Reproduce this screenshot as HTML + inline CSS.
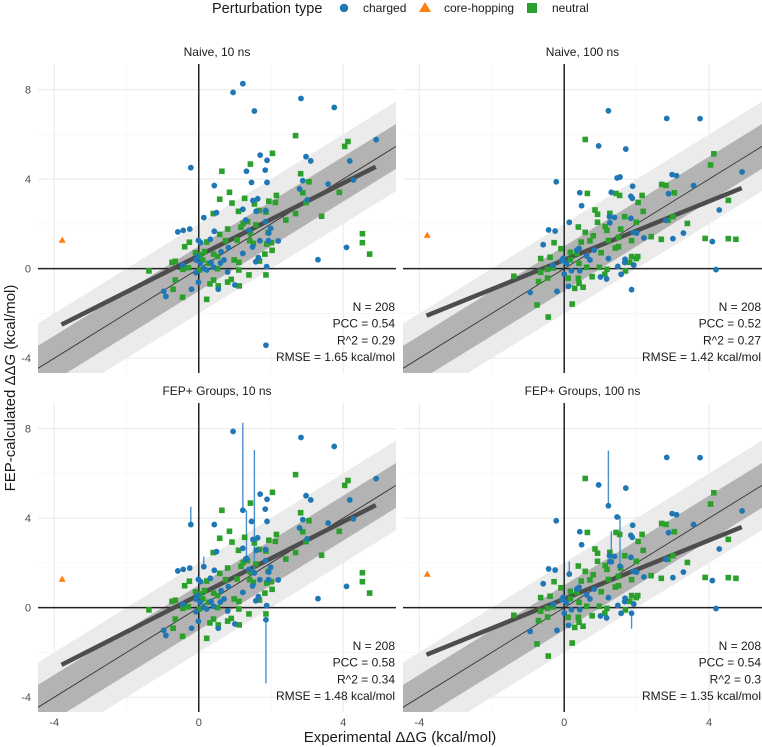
<!DOCTYPE html>
<html><head><meta charset="utf-8"><style>
html,body{margin:0;padding:0;background:#fff;}
svg{display:block;font-family:"Liberation Sans",sans-serif;}
</style></head><body>
<svg id="chart" width="762" height="747" viewBox="0 0 762 747"></svg>
<script>
// ---- data ----
const panelTitles = ["Naive, 10 ns","Naive, 100 ns","FEP+ Groups, 10 ns","FEP+ Groups, 100 ns"];
const statsN = [208,208,208,208];
const statsPCC = ["0.54","0.52","0.58","0.54"];
const statsR2 = ["0.29","0.27","0.34","0.3"];
const statsRMSE = ["1.65","1.42","1.48","1.35"];
const fitIntercept = [0.58,0.39,0.56,0.39];
const fitSlope = [0.81,0.655,0.82,0.655];
const xTicks = [-4,0,4];
const yTicks = [-4,0,4,8];
const legendLabels = ["charged","core-hopping","neutral"];

const n10ChargedX = [1.22,0.95,2.83,3.75,1.54,4.91,1.70,2.97,1.89,3.10,4.18,-0.22,1.84,1.32,1.46,1.89,2.88,4.28,3.58,0.43,2.79,3.00,1.63,1.50,1.22,1.59,1.85,0.49,0.14,1.30,1.85,1.99,-0.25,-0.43,-0.58,0.43,1.94,1.39,-0.01,0.05,0.32,1.69,1.93,2.20,4.09,0.82,1.49,1.22,0.62,1.65,1.58,3.30,1.88,-0.44,-0.08,0.04,0.13,0.22,-0.08,0.34,0.60,0.80,-0.20,-0.01,-0.97,-0.91,0.54,1.00,1.86,0.70,0.41,-0.03];
const n10ChargedY = [8.26,7.87,7.6,7.2,7.04,5.76,5.07,5.0,4.84,4.81,4.81,4.51,4.40,4.35,3.85,3.85,3.93,3.96,3.78,3.71,3.56,3.07,3.12,3.04,2.65,2.56,2.60,2.50,2.28,2.17,2.10,1.80,1.77,1.71,1.64,1.67,1.59,1.71,1.26,1.16,1.31,1.25,1.25,1.24,0.95,0.94,0.97,0.68,0.76,0.49,0.31,0.40,0.09,0.16,0.39,0.24,0.01,-0.06,-0.18,0.28,0.25,-0.15,-0.92,-0.61,-1.01,-1.24,-0.92,-0.73,-3.42,0.39,0.06,0.54];
const n10NeutralX = [2.68,4.13,4.04,2.04,1.43,0.64,2.82,3.05,0.85,2.88,3.89,2.15,1.27,0.58,0.92,1.94,2.12,1.54,2.97,1.10,1.68,1.86,0.40,2.68,3.40,2.41,1.35,1.23,1.58,1.17,0.80,0.58,1.43,1.92,4.53,4.53,4.73,-0.26,-0.39,0.22,0.74,1.06,1.41,1.51,1.88,2.01,2.03,1.83,-0.09,0.04,0.16,0.41,0.52,0.98,1.11,1.68,0.11,0.28,-0.74,-0.65,-0.44,-0.29,-1.38,-0.65,-0.71,-0.45,0.22,0.41,0.31,0.54,0.90,1.12,1.39,1.86,1.11,0.02,0.52,0.80];
const n10NeutralY = [5.94,5.68,5.46,5.15,4.67,4.35,4.24,3.88,3.41,3.39,3.41,3.27,3.14,3.10,2.93,3.01,2.96,2.89,2.95,2.56,2.60,2.53,2.46,2.46,2.34,2.17,2.10,2.02,1.95,1.85,1.77,1.53,1.58,1.62,1.56,1.16,0.65,1.18,0.98,1.19,1.25,1.28,1.25,1.13,1.10,1.16,0.82,0.65,0.71,0.61,0.76,0.65,0.54,0.39,0.28,0.34,0.39,0.24,0.28,0.33,-0.03,0.04,-0.10,-0.51,-0.92,-1.28,-1.37,-0.51,-0.68,-0.77,-0.48,-0.77,-0.28,-0.28,-0.06,-0.06,0.00,-0.60];
const n10CoreX = [-3.78];
const n10CoreY = [1.28];

const n100ChargedX = [1.22,2.83,3.75,0.95,1.70,4.91,2.98,3.10,1.46,1.54,-0.22,1.89,3.57,0.43,1.30,2.88,1.84,1.88,0.48,4.28,1.25,1.39,1.84,0.14,1.26,2.81,-0.43,-0.25,1.91,2.0,3.29,2.20,3.0,4.09,-0.58,0.41,0.35,0.83,0.62,1.22,1.68,1.67,1.92,1.48,4.19,-0.03,-0.07,0.06,0.20,0,1.0,1.17,1.57,0.12,-0.20,-0.94,1.86,0.71,0.43,-0.31];
const n100ChargedY = [7.05,6.71,6.70,5.48,5.34,4.32,4.20,4.15,4.05,4.09,3.88,3.68,3.71,3.39,3.41,3.35,3.23,3.14,2.81,2.62,2.32,2.29,2.25,2.07,2.05,2.16,1.73,1.68,1.62,1.59,1.59,1.37,1.34,1.21,1.07,0.91,0.83,0.83,0.57,0.45,0.42,0.27,0.16,0.10,-0.04,0.46,0.36,0.24,-0.09,-0.24,-0.37,-0.46,-0.25,-0.79,-1.01,-1.06,-0.94,0.39,-0.09,0.16];
const n100NeutralX = [0.58,4.13,4.04,2.69,2.81,3.04,0.64,1.43,1.53,2.15,4.53,2.04,0.85,2.18,0.92,1.26,1.67,1.99,0.92,3.0,2.87,3.40,0.39,1.13,1.18,1.56,0.58,0.80,1.50,2.40,2.68,3.89,4.53,4.74,-0.28,0.47,0.71,1.22,1.86,1.50,-0.09,1.41,0.17,0.35,1.02,1.86,1.99,2.03,-0.65,-0.39,0.17,0.41,0.62,0.97,1.18,1.81,-0.65,-0.46,-0.30,-1.39,-0.71,-0.46,0.11,0.39,0.41,0.52,0.29,0.77,1.12,1.69,-0.75,0.22,-0.44];
const n100NeutralY = [5.77,5.13,4.63,3.76,3.72,3.39,3.36,3.36,3.27,3.27,3.05,2.96,2.62,2.56,2.43,2.47,2.32,2.07,2.07,2.32,2.16,2.02,1.86,1.88,1.71,1.77,1.62,1.47,1.40,1.43,1.31,1.35,1.34,1.31,1.16,1.19,1.24,1.26,1.25,0.98,0.89,0.92,0.73,0.68,0.71,0.54,0.45,0.54,0.45,0.51,0.40,0.24,0.06,0.06,-0.03,0.28,-0.16,-0.03,0.03,-0.34,-0.58,-0.42,-0.43,-0.43,-0.65,-0.83,-0.88,-0.36,-0.25,-0.10,-1.62,-1.58,-2.16];
const n100CoreX = [-3.78];
const n100CoreY = [1.50];

// FEP+ Groups: same points as Naive except charged points that moved (with range bars)
const g10FixIdx = [0,4,11,13,28,68];
const g10FixY = [4.35,1.55,3.71,2.2,1.83,-0.54];
const g10BarY = [8.26,7.04,4.51,4.35,2.28,-3.38];
const g100FixIdx = [0,9,14,23,56];
const g100FixY = [4.55,1.85,2.05,1.5,-0.25];
const g100BarY = [7.02,4.09,3.41,2.07,-0.94];

// ---- build ----
const NS = "http://www.w3.org/2000/svg";
const svg = document.getElementById("chart");
function mk(tag, attrs, parent){const e=document.createElementNS(NS,tag);for(const k in attrs)e.setAttribute(k,attrs[k]);(parent||svg).appendChild(e);return e;}

const XMIN=-4.45, XMAX=5.46, YMIN=-4.66, YMAX=9.14;
const panels = [
 {x0:38,x1:396,y0:64,y1:373},
 {x0:403,x1:762,y0:64,y1:373},
 {x0:38,x1:396,y0:403,y1:712},
 {x0:403,x1:762,y0:403,y1:712}
];
const BLUE="#1f77b4", ORANGE="#ff7f0e", GREEN="#2ca02c";

function applyFix(arr, idx, vals){const out=arr.slice();idx.forEach((i,k)=>{out[i]=vals[k];});return out;}
const datasets = [
 {cx:n10ChargedX,cy:n10ChargedY,nx:n10NeutralX,ny:n10NeutralY,tx:n10CoreX,ty:n10CoreY,bars:[]},
 {cx:n100ChargedX,cy:n100ChargedY,nx:n100NeutralX,ny:n100NeutralY,tx:n100CoreX,ty:n100CoreY,bars:[]},
 {cx:n10ChargedX,cy:applyFix(n10ChargedY,g10FixIdx,g10FixY),nx:n10NeutralX,ny:n10NeutralY,tx:n10CoreX,ty:n10CoreY,bars:g10FixIdx.map((i,k)=>[n10ChargedX[i],g10FixY[k],g10BarY[k]])},
 {cx:n100ChargedX,cy:applyFix(n100ChargedY,g100FixIdx,g100FixY),nx:n100NeutralX,ny:n100NeutralY,tx:n100CoreX,ty:n100CoreY,bars:g100FixIdx.map((i,k)=>[n100ChargedX[i],g100FixY[k],g100BarY[k]])}
];

const defs = mk("defs",{});
panels.forEach((p,pi)=>{
  const cp = mk("clipPath",{id:"clip"+pi},defs);
  mk("rect",{x:p.x0,y:p.y0,width:p.x1-p.x0,height:p.y1-p.y0},cp);
});

panels.forEach((p,pi)=>{
  const sx = v => p.x0 + (v-XMIN)/(XMAX-XMIN)*(p.x1-p.x0);
  const sy = v => p.y1 - (v-YMIN)/(YMAX-YMIN)*(p.y1-p.y0);
  const g = mk("g",{"clip-path":"url(#clip"+pi+")"});
  
  
  // grid
  [-2,2].forEach(v=>mk("line",{x1:sx(v),x2:sx(v),y1:p.y0,y2:p.y1,stroke:"#f2f2f2","stroke-width":0.6},g));
  [-2,2,6].forEach(v=>mk("line",{x1:p.x0,x2:p.x1,y1:sy(v),y2:sy(v),stroke:"#f2f2f2","stroke-width":0.6},g));
  xTicks.forEach(v=>mk("line",{x1:sx(v),x2:sx(v),y1:p.y0,y2:p.y1,stroke:"#ebebeb","stroke-width":1.1},g));
  yTicks.forEach(v=>mk("line",{x1:p.x0,x2:p.x1,y1:sy(v),y2:sy(v),stroke:"#ebebeb","stroke-width":1.1},g));
  // bands
  const a=XMIN-1, b=XMAX+1;
  const band=(d,fill,name)=>{const e=mk("polygon",{points:`${sx(a)},${sy(a+d)} ${sx(b)},${sy(b+d)} ${sx(b)},${sy(b-d)} ${sx(a)},${sy(a-d)}`,fill:fill},g);};
  band(2,"#ebebeb","band-2-kcal");
  band(1,"#b3b3b3","band-1-kcal");
  // axes at zero
  mk("line",{x1:p.x0,x2:p.x1,y1:sy(0),y2:sy(0),stroke:"#222","stroke-width":1.5},g);
  mk("line",{x1:sx(0),x2:sx(0),y1:p.y0,y2:p.y1,stroke:"#222","stroke-width":1.5},g);
  // identity line
  const idl = mk("line",{x1:sx(a),y1:sy(a),x2:sx(b),y2:sy(b),stroke:"#333","stroke-width":0.9},g);
  
  
  // fit
  const fx0=-3.8, fx1=4.9;
  const fit = mk("line",{x1:sx(fx0),y1:sy(fitIntercept[pi]+fitSlope[pi]*fx0),x2:sx(fx1),y2:sy(fitIntercept[pi]+fitSlope[pi]*fx1),stroke:"#4d4d4d","stroke-width":4.5},g);
  
  
  const d = datasets[pi];
  // error bars
  d.bars.forEach(bb=>{
    const e = mk("line",{x1:sx(bb[0]),x2:sx(bb[0]),y1:sy(bb[1]),y2:sy(bb[2]),stroke:"#4a90d0","stroke-width":1.4},g);
    
    
  });
  // neutral squares
  d.nx.forEach((x,i)=>{
    const e = mk("rect",{x:sx(x)-2.8,y:sy(d.ny[i])-2.8,width:5.6,height:5.6,fill:GREEN},g);
    
    
  });
  // charged circles
  d.cx.forEach((x,i)=>{
    const e = mk("circle",{cx:sx(x),cy:sy(d.cy[i]),r:2.9,fill:BLUE},g);
    
    
  });
  // core-hopping triangles
  d.tx.forEach((x,i)=>{
    const X=sx(x), Y=sy(d.ty[i]);
    const e = mk("polygon",{points:`${X},${Y-3.5} ${X+3.5},${Y+2.7} ${X-3.5},${Y+2.7}`,fill:ORANGE},g);
    
    
  });
  // strip title
  const st = mk("text",{x:(p.x0+p.x1)/2,y:p.y0-8,"text-anchor":"middle","font-size":"12","fill":"#1a1a1a"});
  st.textContent = panelTitles[pi];
  
  
  // stats
  const lines = ["N = "+statsN[pi],"PCC = "+statsPCC[pi],"R^2 = "+statsR2[pi],"RMSE = "+statsRMSE[pi]+" kcal/mol"];
  lines.forEach((t,k)=>{
    const e = mk("text",{x:p.x1-1,y:p.y0+247+k*16.7,"text-anchor":"end","font-size":"12","fill":"#1a1a1a"});
    e.textContent=t;
    
    
  });
  // tick labels
  if(pi%2===0){
    yTicks.forEach(v=>{
      const e = mk("text",{x:31,y:sy(v)+4,"text-anchor":"end","font-size":"11","fill":"#4d4d4d"});
      e.textContent = v;
      
      
    });
  }
  if(pi>=2){
    xTicks.forEach(v=>{
      const e = mk("text",{x:sx(v),y:p.y1+14,"text-anchor":"middle","font-size":"11","fill":"#4d4d4d"});
      e.textContent = v;
      
      
    });
  }
});

// axis titles
const xt = mk("text",{x:400,y:742,"text-anchor":"middle","font-size":"15","fill":"#1a1a1a"});
xt.textContent = "Experimental \u0394\u0394G (kcal/mol)";


const yt = mk("text",{x:0,y:0,"text-anchor":"middle","font-size":"15","fill":"#1a1a1a",transform:"translate(15,388) rotate(-90)"});
yt.textContent = "FEP-calculated \u0394\u0394G (kcal/mol)";



// legend
const lg = mk("g",{});


const lt = mk("text",{x:212,y:13,"font-size":"14.5","fill":"#1a1a1a"},lg);
lt.textContent = "Perturbation type";


const c1 = mk("circle",{cx:344,cy:8,r:4.2,fill:BLUE},lg);


const t1 = mk("text",{x:363,y:12,"font-size":"12","fill":"#1a1a1a"},lg);
t1.textContent = legendLabels[0];


const tr = mk("polygon",{points:"425,2 431,12 419,12",fill:ORANGE},lg);


const t2 = mk("text",{x:444,y:12,"font-size":"12","fill":"#1a1a1a"},lg);
t2.textContent = legendLabels[1];


const sq = mk("rect",{x:527,y:3,width:10,height:10,fill:GREEN},lg);


const t3 = mk("text",{x:552,y:12,"font-size":"12","fill":"#1a1a1a"},lg);
t3.textContent = legendLabels[2];


</script>
</body></html>
